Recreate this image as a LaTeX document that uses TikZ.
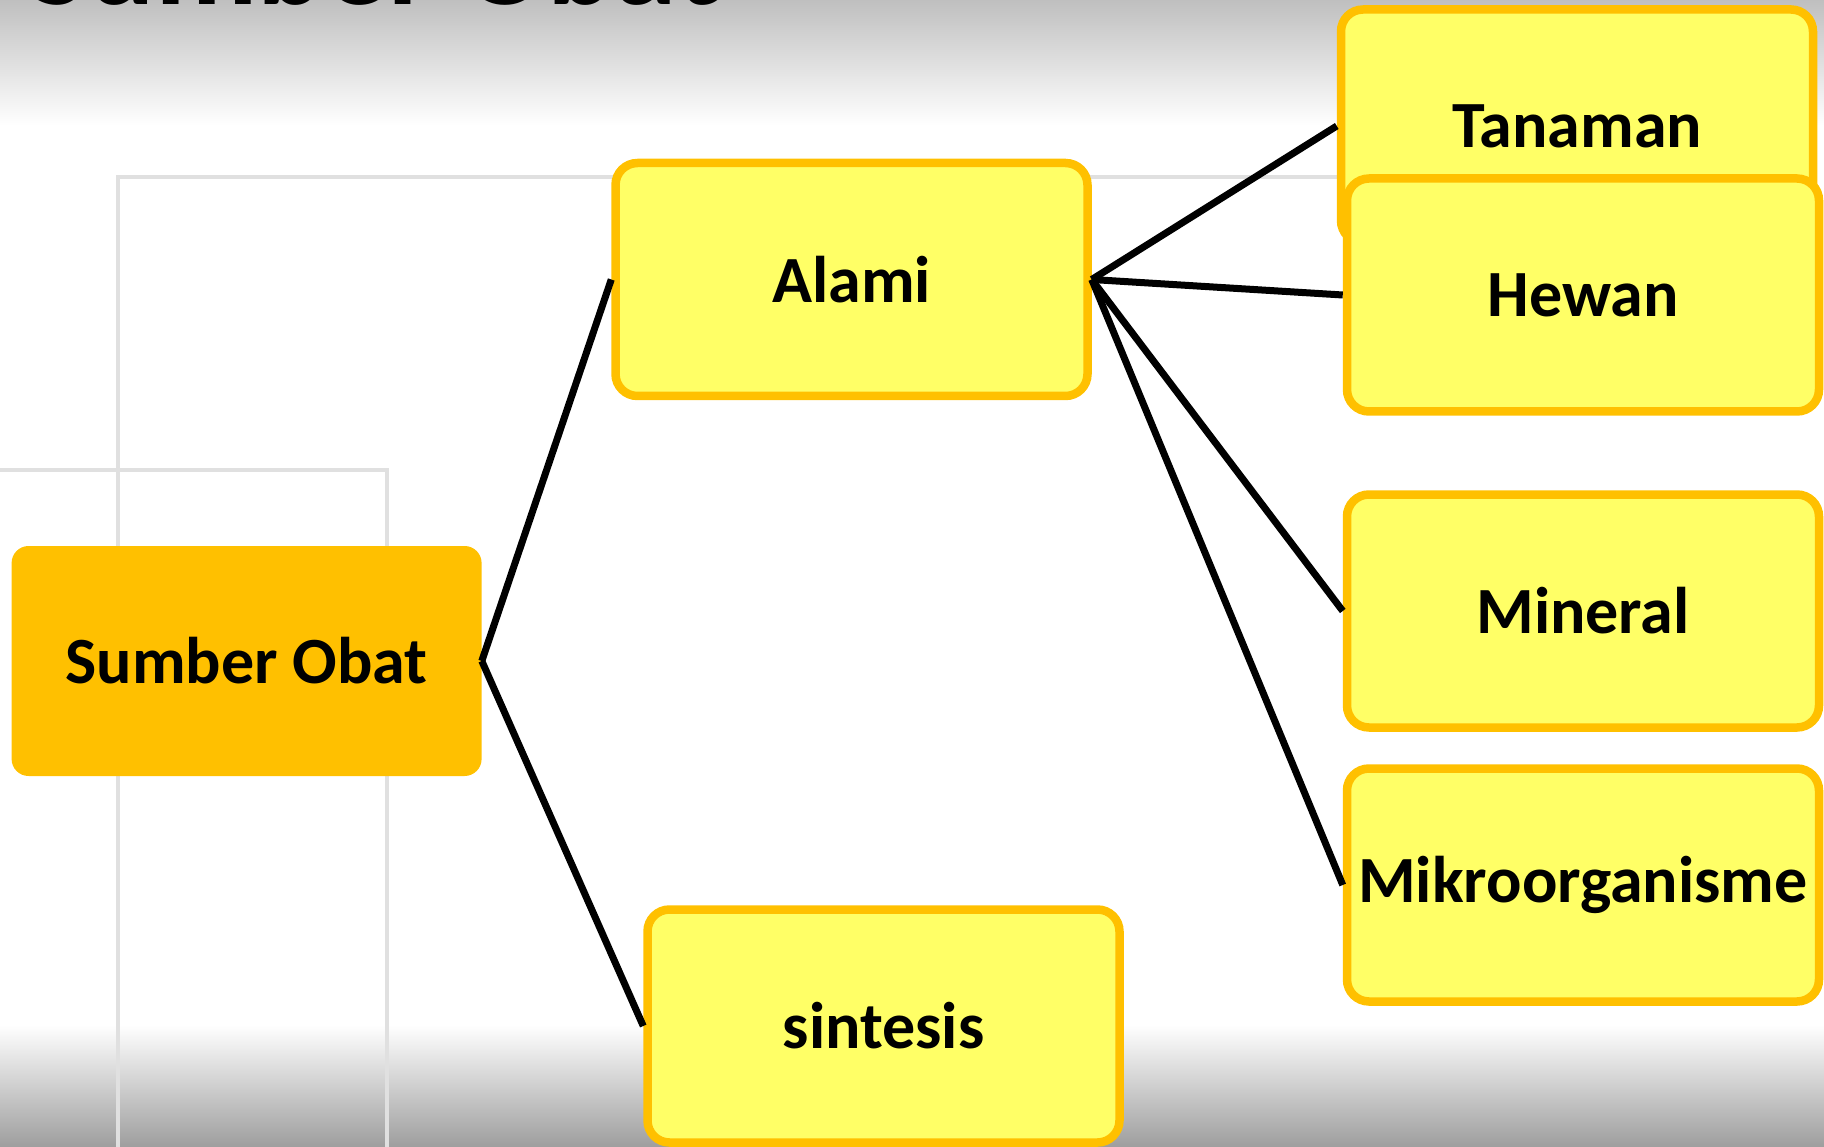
\documentclass[tikz,border=0pt]{standalone}
\usepackage{fontspec}
\setmainfont{Carlito}
\definecolor{boxyellow}{HTML}{FFFF66}
\definecolor{boxorange}{HTML}{FFC000}
\definecolor{guidegray}{HTML}{E0E0E0}
\begin{document}
\begin{tikzpicture}[x=1pt,y=-1pt,
  lbl/.style={font=\fontsize{66}{70}\selectfont\bfseries, text=black},
  ybox/.style={lbl, draw=boxorange, fill=boxyellow, line width=8.5pt, rounded corners=22pt,
    minimum width=472pt, minimum height=233pt, inner sep=0pt},
  obox/.style={lbl, fill=boxorange, rounded corners=17pt,
    minimum width=470pt, minimum height=230pt, inner sep=0pt},
  conn/.style={line width=7pt, black},
  guide/.style={guidegray, line width=3.5pt}]
\useasboundingbox (0,0) rectangle (1824,1147);
% background shading
\shade[top color=black!25, bottom color=white] (0,0) rectangle (1824,125);
\shade[top color=white, bottom color=black!38] (0,1025) rectangle (1824,1147);
% faint guide lines
\draw[guide] (118,1147) -- (118,177) -- (1400,177);
\draw[guide] (0,470) -- (387,470) -- (387,1147);
% clipped title
\begin{scope}
\clip (0,0) rectangle (1824,1147);
\node[anchor=base west, inner sep=0pt, font=\fontsize{126}{130}\selectfont\bfseries] (title) at (28,5) {Sumber Obat};
\end{scope}
% nodes
\node[obox] (sumber) at (246.6,661) {Sumber Obat};
\node[ybox] (alami) at (851.5,279.5) {Alami};
\node[ybox] (sintesis) at (883.5,1026) {sintesis};
\node[ybox] (tanaman) at (1577,126) {Tanaman};
\node[ybox] (hewan) at (1583,295) {Hewan};
\node[ybox] (mineral) at (1583,611) {Mineral};
\node[ybox] (mikro) at (1583,885) {Mikroorganisme};
% connectors
\draw[conn] (sumber.east) -- (alami.west);
\draw[conn] (sumber.east) -- (sintesis.west);
\draw[conn] (alami.east) -- (tanaman.west);
\draw[conn] (alami.east) -- (hewan.west);
\draw[conn] (alami.east) -- (mineral.west);
\draw[conn] (alami.east) -- (mikro.west);
\end{tikzpicture}
\end{document}
